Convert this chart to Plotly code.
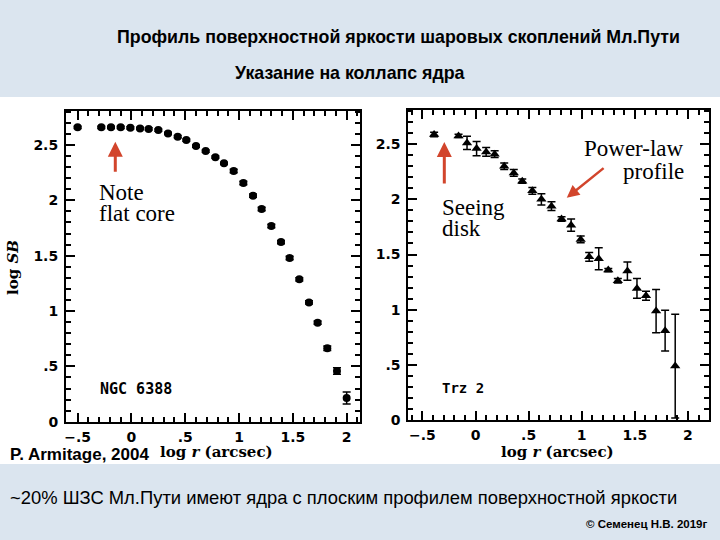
import plotly.graph_objects as go

# ---- data: NGC 6388 (left panel) ----
ngc_logr = [-0.50, -0.28, -0.19, -0.10, -0.01, 0.08, 0.16, 0.25, 0.34, 0.43, 0.51,
            0.60, 0.69, 0.78, 0.86, 0.95, 1.04, 1.13, 1.21, 1.30, 1.39, 1.47, 1.56,
            1.65, 1.73, 1.82, 1.91, 2.00]
ngc_logsb = [2.66, 2.66, 2.66, 2.66, 2.655, 2.65, 2.645, 2.635, 2.605, 2.575, 2.545,
             2.49, 2.445, 2.39, 2.335, 2.265, 2.157, 2.042, 1.922, 1.768, 1.623, 1.479,
             1.286, 1.078, 0.895, 0.663, 0.458, 0.214]
ngc_err = [0.01, 0.01, 0.01, 0.01, 0.01, 0.01, 0.01, 0.01, 0.01, 0.01, 0.01,
           0.01, 0.01, 0.01, 0.01, 0.015, 0.015, 0.015, 0.015, 0.015, 0.015, 0.015,
           0.015, 0.015, 0.015, 0.02, 0.03, 0.055]

# ---- data: Trz 2 (right panel) ----
trz_logr = [-0.39, -0.16, -0.08, 0.01, 0.10, 0.18, 0.27, 0.36, 0.44, 0.535, 0.62,
            0.715, 0.81, 0.90, 0.99, 1.07, 1.16, 1.25, 1.34, 1.43, 1.52, 1.605,
            1.70, 1.785, 1.88]
trz_logsb = [2.588, 2.575, 2.512, 2.46, 2.43, 2.41, 2.30, 2.24, 2.165, 2.077, 2.0,
             1.938, 1.822, 1.766, 1.637, 1.479, 1.461, 1.359, 1.262, 1.35, 1.193, 1.126,
             0.988, 0.81, 0.489]
trz_err = [0.02, 0.015, 0.06, 0.065, 0.04, 0.03, 0.03, 0.03, 0.02, 0.03, 0.05,
           0.04, 0.02, 0.055, 0.03, 0.04, 0.10, 0.015, 0.02, 0.083, 0.09, 0.04,
           0.196, 0.184, 0.47]

xtickvals = [-0.5, 0, 0.5, 1, 1.5, 2]
xticktext = ["\u2212.5", "0", ".5", "1", "1.5", "2"]
ytickvals = [0, 0.5, 1, 1.5, 2, 2.5]
yticktext = ["0", ".5", "1", "1.5", "2", "2.5"]

W, H = 720, 540
def px(x): return x / W
def py(y): return 1 - y / H

fig = go.Figure()

fig.add_trace(go.Scatter(
    x=ngc_logr, y=ngc_logsb, mode="markers", xaxis="x", yaxis="y",
    marker=dict(symbol="circle", size=8, color="black"),
    error_y=dict(type="data", array=ngc_err, color="black", thickness=1.5, width=4),
    showlegend=False))

fig.add_trace(go.Scatter(
    x=trz_logr, y=trz_logsb, mode="markers", xaxis="x2", yaxis="y2",
    marker=dict(symbol="triangle-up", size=9, color="black"),
    error_y=dict(type="data", array=trz_err, color="black", thickness=1.5, width=4),
    showlegend=False))

tickfont = dict(family="DejaVu Sans", size=14, color="black", weight="bold")
minor = dict(ticks="inside", ticklen=5, tickwidth=1.5, tickcolor="black", dtick=0.1, tick0=0)

def xaxis(dom, rng):
    return dict(domain=dom, range=rng, tickmode="array", tickvals=xtickvals, ticktext=xticktext,
                ticks="inside", ticklen=9, tickwidth=1.5, tickcolor="black",
                showline=True, linecolor="black", linewidth=2, mirror="allticks",
                showgrid=False, zeroline=False, tickfont=tickfont, minor=minor,
                ticklabelstandoff=1, automargin=False)

def yaxis(dom, rng, anchor):
    return dict(domain=dom, range=rng, anchor=anchor, tickmode="array", tickvals=ytickvals,
                ticktext=yticktext, ticks="inside", ticklen=9, tickwidth=1.5, tickcolor="black",
                showline=True, linecolor="black", linewidth=2, mirror="allticks",
                showgrid=False, zeroline=False, tickfont=tickfont, minor=minor,
                ticklabelstandoff=3, automargin=False)

red = "#d2452c"
serif = dict(family="Liberation Serif", size=23, color="black")
sans = "Liberation Sans, Arial"

annotations = [
    # left panel
    dict(xref="x", yref="y", x=-0.15, y=2.53, ax=-0.15, ay=2.245, axref="x", ayref="y",
         showarrow=True, arrowhead=2, arrowsize=1, arrowwidth=3, arrowcolor=red, text=""),
    dict(xref="x", yref="y", x=-0.32, y=2.075, text="Note", showarrow=False,
         xanchor="left", yanchor="middle", font=serif),
    dict(xref="x", yref="y", x=-0.32, y=1.885, text="flat core", showarrow=False,
         xanchor="left", yanchor="middle", font=serif),
    dict(xref="x", yref="y", x=-0.31, y=0.30, text="NGC 6388", showarrow=False,
         xanchor="left", yanchor="middle",
         font=dict(family="DejaVu Sans Mono", size=15, color="black", weight="bold")),
    # right panel
    dict(xref="x2", yref="y2", x=-0.294, y=2.52, ax=-0.294, ay=2.13, axref="x2", ayref="y2",
         showarrow=True, arrowhead=2, arrowsize=1, arrowwidth=3, arrowcolor=red, text=""),
    dict(xref="x2", yref="y2", x=0.859, y=2.014, ax=1.22, ay=2.294, axref="x2", ayref="y2",
         showarrow=True, arrowhead=2, arrowsize=1, arrowwidth=2.5, arrowcolor=red, text=""),
    dict(xref="x2", yref="y2", x=-0.335, y=1.93, text="Seeing", showarrow=False,
         xanchor="left", yanchor="middle", font=serif),
    dict(xref="x2", yref="y2", x=-0.335, y=1.736, text="disk", showarrow=False,
         xanchor="left", yanchor="middle", font=serif),
    dict(xref="x2", yref="y2", x=1.985, y=2.461, text="Power-law", showarrow=False,
         xanchor="right", yanchor="middle", font=serif),
    dict(xref="x2", yref="y2", x=1.985, y=2.255, text="profile", showarrow=False,
         xanchor="right", yanchor="middle", font=serif),
    dict(xref="x2", yref="y2", x=-0.335, y=0.287, text="Trz 2", showarrow=False,
         xanchor="left", yanchor="middle",
         font=dict(family="DejaVu Sans Mono", size=14, color="black", weight="bold")),
    # axis titles
    dict(xref="paper", yref="paper", x=px(216), y=py(452), text="log <i>r</i> (arcsec)",
         showarrow=False, xanchor="center", yanchor="middle",
         font=dict(family="DejaVu Serif", size=15, color="black", weight="bold")),
    dict(xref="paper", yref="paper", x=px(557), y=py(452), text="log <i>r</i> (arcsec)",
         showarrow=False, xanchor="center", yanchor="middle",
         font=dict(family="DejaVu Serif", size=15, color="black", weight="bold")),
    dict(xref="paper", yref="paper", x=px(13), y=py(268), text="log <i>SB</i>", textangle=-90,
         showarrow=False, xanchor="center", yanchor="middle",
         font=dict(family="DejaVu Serif", size=15, color="black", weight="bold")),
    # slide texts
    dict(xref="paper", yref="paper", x=px(115), y=py(37),
         text="Профиль поверхностной яркости шаровых скоплений Мл.Пути",
         showarrow=False, xanchor="left", yanchor="middle",
         font=dict(family=sans, size=17.8, color="black", weight="bold")),
    dict(xref="paper", yref="paper", x=px(233), y=py(73), text="Указание на коллапс ядра",
         showarrow=False, xanchor="left", yanchor="middle",
         font=dict(family=sans, size=17.8, color="black", weight="bold")),
    dict(xref="paper", yref="paper", x=px(8), y=py(454), text="P. Armitage, 2004",
         showarrow=False, xanchor="left", yanchor="middle",
         font=dict(family=sans, size=17, color="black", weight="bold")),
    dict(xref="paper", yref="paper", x=px(8), y=py(497),
         text="~20% ШЗС Мл.Пути имеют ядра с плоским профилем поверхностной яркости",
         showarrow=False, xanchor="left", yanchor="middle",
         font=dict(family=sans, size=18.4, color="black")),
    dict(xref="paper", yref="paper", x=px(710), y=py(524), text="© Семенец Н.В. 2019г",
         showarrow=False, xanchor="right", yanchor="middle",
         font=dict(family=sans, size=11.5, color="black", weight="bold")),
]

fig.update_layout(
    width=W, height=H, margin=dict(l=0, r=0, t=0, b=0, pad=0, autoexpand=False),
    paper_bgcolor="#dbe5ef", plot_bgcolor="rgba(0,0,0,0)",
    xaxis=xaxis([px(66), px(360)], [-0.608, 2.124]),
    yaxis=yaxis([py(421.7), py(110.7)], [0, 2.81], "x"),
    xaxis2=dict(xaxis([px(408.3), px(709.3)], [-0.633, 2.201]), anchor="y2"),
    yaxis2=yaxis([py(420), py(110)], [0, 2.81], "x2"),
    shapes=[dict(type="rect", xref="paper", yref="paper", x0=0, x1=1, y0=py(464), y1=py(97),
                 fillcolor="white", line=dict(width=0), layer="below")],
    annotations=annotations,
)

fig.write_html("out.html", config={"displayModeBar": False},
               post_script="document.body.style.margin='0px';document.body.style.overflow='hidden';")
